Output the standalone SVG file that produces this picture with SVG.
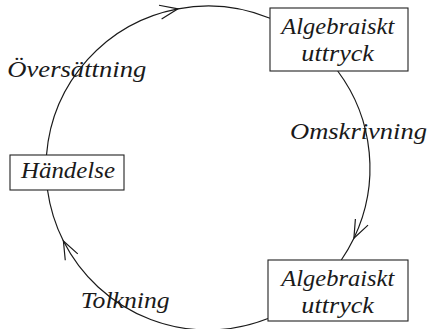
<svg xmlns="http://www.w3.org/2000/svg" width="432" height="329" viewBox="0 0 432 329">
<defs>
<style>
.box{fill:#fff;stroke:#222;stroke-width:1.1}
.lbl{font-size:23px;fill:#1a1a1a}
.arc{fill:none;stroke:#1a1a1a;stroke-width:1.2;marker-mid:url(#v)}
</style>
<marker id="v" markerUnits="userSpaceOnUse" markerWidth="24" markerHeight="20" viewBox="-20 -10 24 20" refX="0" refY="0" orient="auto" overflow="visible">
<path d="M-18,-7 L0,0 L-18,7" fill="none" stroke="#1a1a1a" stroke-width="1.2"/>
</marker>
</defs>
<rect width="432" height="329" fill="#fff"/>
<g id="connectors">
<path class="arc" d="M46.5,155 A162,162 0 0 1 178,8.8 A162,162 0 0 1 270,18.3"/>
<path class="arc" d="M337.7,71 A162,162 0 0 1 353.9,238.3 A162,162 0 0 1 341.3,260"/>
<path class="arc" d="M268,318.5 A162,162 0 0 1 63.4,241 A162,162 0 0 1 47.5,190"/>
</g>
<g font-family="'Liberation Serif', 'Times New Roman', serif" font-style="italic">
<g id="labels">
<text class="lbl" x="7.3" y="77" textLength="139" lengthAdjust="spacingAndGlyphs">Översättning</text>
<text class="lbl" x="290" y="139" textLength="137" lengthAdjust="spacingAndGlyphs">Omskrivning</text>
<text class="lbl" x="80.7" y="308" textLength="89" lengthAdjust="spacingAndGlyphs">Tolkning</text>
</g>
<g id="node-handelse">
<rect class="box" x="10" y="155" width="114" height="35"/>
<text class="lbl" x="21" y="178" textLength="94" lengthAdjust="spacingAndGlyphs">Händelse</text>
</g>
<g id="node-algebraiskt-top">
<rect class="box" x="270" y="8" width="138" height="63"/>
<text class="lbl" x="281.3" y="33.5" textLength="113" lengthAdjust="spacingAndGlyphs">Algebraiskt</text>
<text class="lbl" x="301.3" y="60.5" textLength="72.7" lengthAdjust="spacingAndGlyphs">uttryck</text>
</g>
<g id="node-algebraiskt-bottom">
<rect class="box" x="268" y="260" width="140" height="61"/>
<text class="lbl" x="281.3" y="285.5" textLength="113" lengthAdjust="spacingAndGlyphs">Algebraiskt</text>
<text class="lbl" x="301.3" y="312.5" textLength="72.7" lengthAdjust="spacingAndGlyphs">uttryck</text>
</g>
</g>
</svg>
